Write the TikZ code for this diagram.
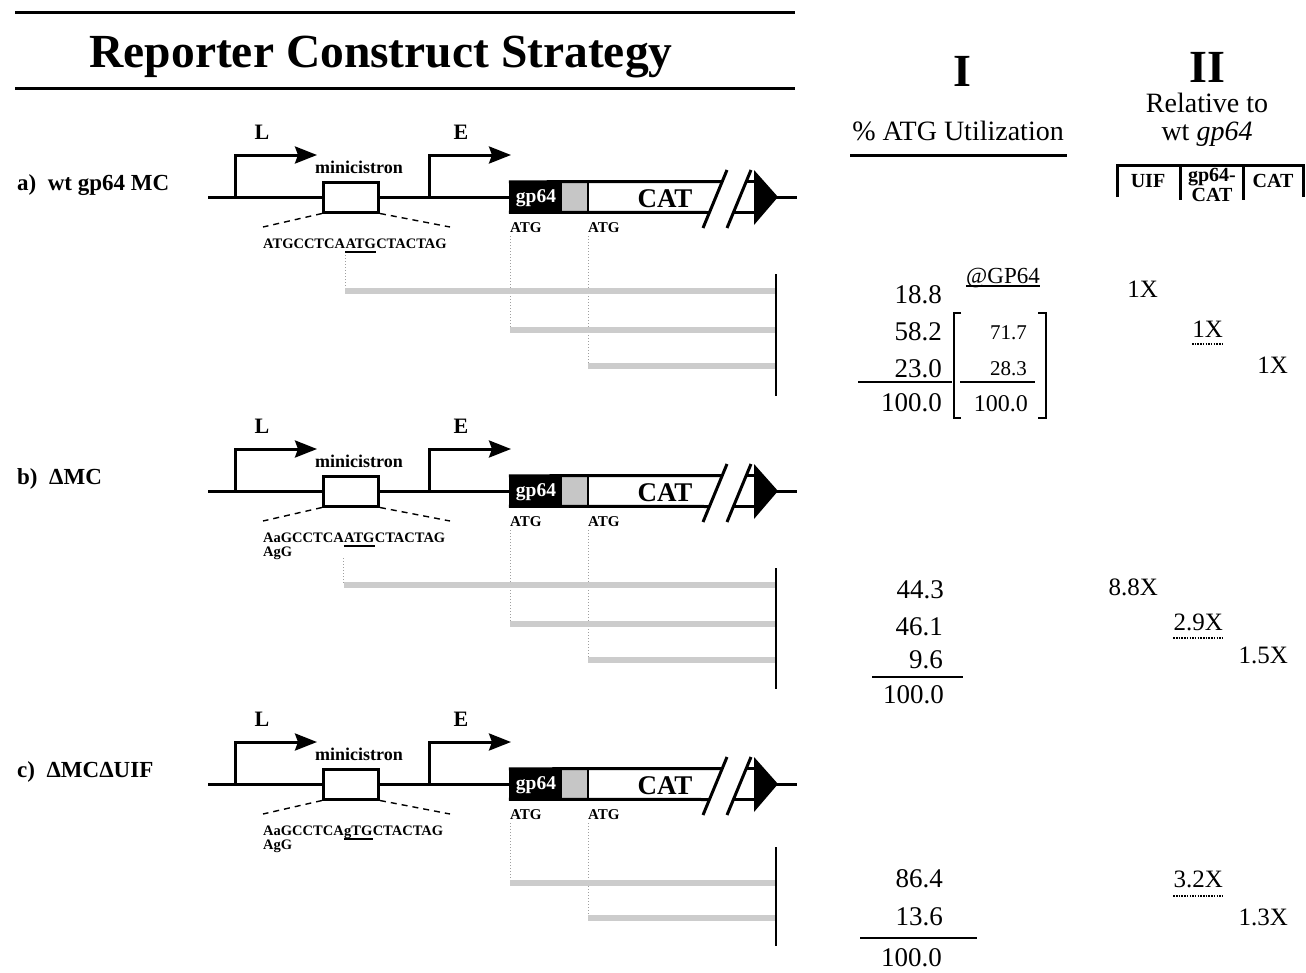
\documentclass[tikz,border=0pt]{standalone}
\usepackage{fontspec}
\setmainfont{Liberation Serif}
\usetikzlibrary{arrows.meta}
\newcommand\fsz[1]{\fontsize{#1}{#1}\selectfont}
\tikzset{
  heavy/.style={line width=3pt},
  promoter/.style={line width=3pt, -{Stealth[length=22pt,width=17pt,inset=3pt]}},
  lbl/.style={font=\bfseries\fsz{23}, inner sep=0pt, anchor=base west},
  seqf/.style={font=\bfseries\fsz{14.5}, inner sep=0pt, anchor=base west},
  atgf/.style={font=\bfseries\fsz{15}, inner sep=0pt, anchor=base west},
  plbl/.style={font=\bfseries\fsz{22}, inner sep=0pt, anchor=base},
  bar/.style={line width=6pt, draw=gray!40},
  dotln/.style={draw=gray!75, line width=1pt, dash pattern=on 1pt off 2pt},
  endln/.style={line width=2pt},
  numf/.style={font=\fsz{27}, inner sep=0pt, anchor=base east},
  numsm/.style={font=\fsz{21}, inner sep=0pt, anchor=base east},
  numII/.style={font=\fsz{25}, inner sep=0pt, anchor=base east},
  sumln/.style={line width=2pt},
  dotund/.style={line width=2pt, dash pattern=on 1.5pt off 1.2pt},
  hdr/.style={font=\fsz{28}, inner sep=0pt, anchor=base},
  colhd/.style={font=\bfseries\fsz{20}, inner sep=0pt, anchor=base},
}
% #1 prefix, #2 y offset, #3 label, #4 #5 #6 sequence parts (#5 underlined), #7 second line
\newcommand\construct[7]{%
\begin{scope}[shift={(0,#2)}]
  \node[lbl] (#1-label) at (17,190) {#3};
  \coordinate (#1-s0) at (208,197);
  \coordinate (#1-s1) at (510,197);
  \draw[heavy] (#1-s0) -- (#1-s1);
  % promoters
  \coordinate (#1-L0) at (235,197);
  \coordinate (#1-L1) at (317,155);
  \draw[promoter] (#1-L0) |- (#1-L1);
  \node[plbl] (#1-Ltxt) at (262,139) {L};
  \coordinate (#1-E0) at (429,197);
  \coordinate (#1-E1) at (511,155);
  \draw[promoter] (#1-E0) |- (#1-E1);
  \node[plbl] (#1-Etxt) at (461,139) {E};
  % minicistron
  \node[draw, heavy, fill=white, minimum width=55pt, minimum height=30pt, inner sep=0pt] (#1-mc) at (351,197) {};
  \node[font=\bfseries\fsz{18}, inner sep=0pt, anchor=base] (#1-mctxt) at (359,173) {minicistron};
  \coordinate (#1-d1) at (263,227);
  \coordinate (#1-d2) at (450,227);
  \draw[line width=1.4pt, dash pattern=on 6pt off 5pt] (#1-mc.south west) -- (#1-d1);
  \draw[line width=1.4pt, dash pattern=on 6pt off 5pt] (#1-mc.south east) -- (#1-d2);
  % sequence
  \node[seqf] (#1-p1) at (263,248) {#4};
  \node[seqf] (#1-u) at (#1-p1.base east) {#5};
  \node[seqf] (#1-p3) at (#1-u.base east) {#6};
  \draw[line width=1.2pt] ([yshift=-4pt]#1-u.base west) -- ([yshift=-4pt]#1-u.base east);
  \node[seqf] (#1-p4) at (263,262) {#7};
  % reporter box
  \node[fill=black, minimum width=53pt, minimum height=33pt, inner sep=0pt] (#1-gp) at (535.5,197) {};
  \node[font=\bfseries\fsz{19.5}, text=white, inner sep=0pt, anchor=base] (#1-gptxt) at (536,202) {gp64};
  \node[fill=gray!45, minimum width=26pt, minimum height=31pt, inner sep=0pt] (#1-gr) at (575,197) {};
  \draw[heavy] (#1-gp.north west) ++(0,-1.5pt) -- (722,181.5);
  \draw[heavy] (#1-gp.south west) ++(0,1.5pt) -- (709,212.5);
  \draw[heavy] (746,181.5) -- (756,181.5);
  \draw[heavy] (733,212.5) -- (756,212.5);
  \draw[line width=2pt] (588,181.5) -- (588,212.5);
  \draw[heavy] (703,228) -- (727,170);
  \draw[heavy] (727,228) -- (751,170);
  \fill (754,170) -- (778,197) -- (754,225) -- cycle;
  \coordinate (#1-t0) at (776,197);
  \coordinate (#1-t1) at (797,197);
  \draw[heavy] (#1-t0) -- (#1-t1);
  \node[font=\bfseries\fsz{27}, inner sep=0pt, anchor=base] (#1-cat) at (665,207) {CAT};
  \node[atgf] (#1-atg1) at (510,232) {ATG};
  \node[atgf] (#1-atg2) at (588,232) {ATG};
\end{scope}}

\begin{document}
\begin{tikzpicture}[x=1pt,y=-1pt]
\useasboundingbox (0,0) rectangle (1306,972);

% title
\coordinate (r1a) at (15,12); \coordinate (r1b) at (795,12);
\coordinate (r2a) at (15,88); \coordinate (r2b) at (795,88);
\draw[heavy] (r1a) -- (r1b);
\draw[heavy] (r2a) -- (r2b);
\node[font=\bfseries\fsz{47.5}, inner sep=0pt, anchor=base] (title) at (381,67) {Reporter Construct Strategy};

% column headers
\node[font=\bfseries\fsz{46}, inner sep=0pt, anchor=base] (hI) at (962,86) {I};
\node[font=\bfseries\fsz{46}, inner sep=0pt, anchor=base] (hII) at (1207,82) {II};
\node[hdr] (util) at (958,140) {\% ATG Utilization};
\coordinate (u0) at (850,155); \coordinate (u1) at (1067,155);
\draw[heavy] (u0) -- (u1);
\node[hdr] (rel) at (1207,112) {Relative to};
\node[hdr] (wt) at (1207,140) {wt \textit{gp64}};
\coordinate (h0) at (1117,197); \coordinate (h1) at (1117,165);
\coordinate (h2) at (1303,165); \coordinate (h3) at (1303,197);
\draw[heavy] (h0) -- (h1) -- (h2) -- (h3);
\coordinate (h4) at (1180,165); \coordinate (h5) at (1180,200);
\coordinate (h6) at (1243,165); \coordinate (h7) at (1243,200);
\draw[heavy] (h4) -- (h5);
\draw[heavy] (h6) -- (h7);
\node[colhd] (cuif) at (1148,187) {UIF};
\node[colhd] (cgp) at (1212,181) {gp64-};
\node[colhd] (cgp2) at (1212,201) {CAT};
\node[colhd] (ccat) at (1273,187) {CAT};

% constructs
\construct{a}{0}{a)\enspace wt gp64 MC}{ATGCCTCA}{ATG}{CTACTAG}{}
\construct{b}{294}{b)\enspace ΔMC}{AaGCCTCA}{ATG}{CTACTAG}{AgG}
\construct{c}{587}{c)\enspace ΔMCΔUIF}{AaGCCTCA}{gTG}{CTACTAG}{AgG}

% ---- a) bars
\coordinate (a-r1) at (775,291);
\coordinate (a-r2) at (775,330);
\coordinate (a-r3) at (775,366);
\coordinate (a-v0) at (776,274);
\coordinate (a-v1) at (776,396);
\draw[dotln] ([yshift=-7pt]a-u.base west) -- (a-u.base west |- a-r1);
\draw[dotln] ([yshift=-4pt]a-atg1.base west) -- (a-atg1.base west |- a-r2);
\draw[dotln] ([yshift=-4pt]a-atg2.base west) -- (a-atg2.base west |- a-r3);
\draw[bar] (a-u.base west |- a-r1) -- (a-r1);
\draw[bar] (a-atg1.base west |- a-r2) -- (a-r2);
\draw[bar] (a-atg2.base west |- a-r3) -- (a-r3);
\draw[endln] (a-v0) -- (a-v1);

% ---- b) bars
\coordinate (b-r1) at (775,585);
\coordinate (b-r2) at (775,624);
\coordinate (b-r3) at (775,660);
\coordinate (b-v0) at (776,568);
\coordinate (b-v1) at (776,689);
\draw[dotln] ([yshift=-16pt]b-u.base west) -- (b-u.base west |- b-r1);
\draw[dotln] ([yshift=-4pt]b-atg1.base west) -- (b-atg1.base west |- b-r2);
\draw[dotln] ([yshift=-4pt]b-atg2.base west) -- (b-atg2.base west |- b-r3);
\draw[bar] (b-u.base west |- b-r1) -- (b-r1);
\draw[bar] (b-atg1.base west |- b-r2) -- (b-r2);
\draw[bar] (b-atg2.base west |- b-r3) -- (b-r3);
\draw[endln] (b-v0) -- (b-v1);

% ---- c) bars
\coordinate (c-r2) at (775,883);
\coordinate (c-r3) at (775,918);
\coordinate (c-v0) at (776,847);
\coordinate (c-v1) at (776,946);
\draw[dotln] ([yshift=-4pt]c-atg1.base west) -- (c-atg1.base west |- c-r2);
\draw[dotln] ([yshift=-4pt]c-atg2.base west) -- (c-atg2.base west |- c-r3);
\draw[bar] (c-atg1.base west |- c-r2) -- (c-r2);
\draw[bar] (c-atg2.base west |- c-r3) -- (c-r3);
\draw[endln] (c-v0) -- (c-v1);

% ---- column I, a)
\node[font=\fsz{23}, inner sep=0pt, anchor=base] (gp) at (1003,283) {@GP64};
\draw[line width=1.2pt] ([yshift=-3pt]gp.base west) -- ([yshift=-3pt]gp.base east);
\node[numf] (a-n1) at (942,303) {18.8};
\node[numf] (a-n2) at (942,340) {58.2};
\node[numf] (a-n3) at (942,377) {23.0};
\coordinate (a-l0) at (858,382); \coordinate (a-l1) at (952,382);
\draw[sumln] (a-l0) -- (a-l1);
\node[numf] (a-n4) at (942,411) {100.0};
\coordinate (bk0) at (961,313); \coordinate (bk1) at (954,313);
\coordinate (bk2) at (954,418); \coordinate (bk3) at (961,418);
\draw[line width=2.5pt] (bk0) -- (bk1) -- (bk2) -- (bk3);
\coordinate (bk4) at (1038,313); \coordinate (bk5) at (1046,313);
\coordinate (bk6) at (1046,418); \coordinate (bk7) at (1038,418);
\draw[line width=2.5pt] (bk4) -- (bk5) -- (bk6) -- (bk7);
\node[numsm] (a-m1) at (1027,339) {71.7};
\node[numsm] (a-m2) at (1027,375) {28.3};
\coordinate (a-k0) at (960,382); \coordinate (a-k1) at (1035,382);
\draw[sumln] (a-k0) -- (a-k1);
\node[numsm, font=\fsz{24}] (a-m3) at (1028,411) {100.0};
% column II, a)
\node[numII] (a-x1) at (1158,297) {1X};
\node[numII] (a-x2) at (1223,337) {1X};
\draw[dotund] ([yshift=-7pt]a-x2.base west) -- ([yshift=-7pt]a-x2.base east);
\node[numII] (a-x3) at (1288,373) {1X};

% ---- column I, b)
\node[numf] (b-n1) at (944,598) {44.3};
\node[numf] (b-n2) at (943,635) {46.1};
\node[numf] (b-n3) at (943,668) {9.6};
\coordinate (b-l0) at (872,677); \coordinate (b-l1) at (963,677);
\draw[sumln] (b-l0) -- (b-l1);
\node[numf] (b-n4) at (944,703) {100.0};
\node[numII] (b-x1) at (1158,595) {8.8X};
\node[numII] (b-x2) at (1223,630) {2.9X};
\draw[dotund] ([yshift=-8pt]b-x2.base west) -- ([yshift=-8pt]b-x2.base east);
\node[numII] (b-x3) at (1288,663) {1.5X};

% ---- column I, c)
\node[numf] (c-n1) at (943,887) {86.4};
\node[numf] (c-n2) at (943,925) {13.6};
\coordinate (c-l0) at (860,938); \coordinate (c-l1) at (977,938);
\draw[sumln] (c-l0) -- (c-l1);
\node[numf] (c-n4) at (942,966) {100.0};
\node[numII] (c-x1) at (1223,887) {3.2X};
\draw[dotund] ([yshift=-9pt]c-x1.base west) -- ([yshift=-9pt]c-x1.base east);
\node[numII] (c-x2) at (1288,925) {1.3X};
\end{tikzpicture}
\end{document}
